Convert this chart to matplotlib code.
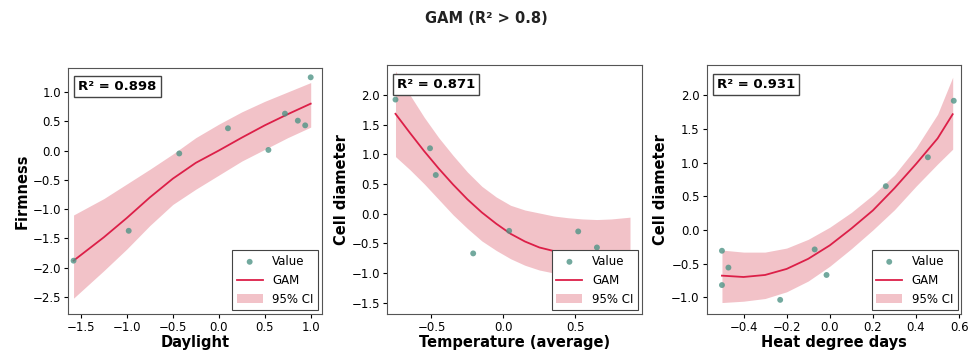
import numpy as np
import matplotlib
matplotlib.use("Agg")
import matplotlib.pyplot as plt

# ---- Data ----
title = "GAM (R² > 0.8)"

# Panel 1: Daylight vs Firmness
p1_x = [-1.58, -0.98, -0.43, 0.10, 0.54, 0.72, 0.86, 0.94, 1.00]
p1_y = [-1.88, -1.37, -0.05, 0.38, 0.01, 0.63, 0.51, 0.43, 1.25]
p1_cx = [-1.58, -1.25, -1.0, -0.75, -0.5, -0.25, 0.0, 0.25, 0.5, 0.75, 1.0]
p1_cy = [-1.88, -1.48, -1.15, -0.80, -0.48, -0.21, 0.0, 0.22, 0.43, 0.62, 0.80]
p1_lo = [-2.52, -2.05, -1.68, -1.28, -0.92, -0.66, -0.42, -0.18, 0.02, 0.22, 0.40]
p1_hi = [-1.10, -0.82, -0.57, -0.32, -0.06, 0.22, 0.45, 0.66, 0.84, 1.00, 1.16]
p1_r2 = "R² = 0.898"

# Panel 2: Temperature (average) vs Cell diameter
p2_x = [-0.75, -0.51, -0.47, -0.21, 0.04, 0.52, 0.65]
p2_y = [1.92, 1.10, 0.65, -0.67, -0.29, -0.30, -0.57]
p2_cx = [-0.75, -0.65, -0.55, -0.45, -0.35, -0.25, -0.15, -0.05, 0.05,
         0.15, 0.25, 0.35, 0.45, 0.55, 0.65, 0.75, 0.88]
p2_cy = [1.68, 1.36, 1.05, 0.76, 0.49, 0.24, 0.02, -0.17, -0.34,
         -0.47, -0.57, -0.63, -0.67, -0.69, -0.69, -0.68, -0.65]
p2_lo = [0.96, 0.74, 0.50, 0.24, -0.02, -0.25, -0.46, -0.62, -0.76,
         -0.87, -0.95, -1.00, -1.04, -1.07, -1.10, -1.13, -1.18]
p2_hi = [2.40, 2.00, 1.62, 1.28, 0.98, 0.70, 0.46, 0.28, 0.14,
         0.06, 0.01, -0.04, -0.07, -0.09, -0.10, -0.09, -0.06]
p2_r2 = "R² = 0.871"

# Panel 3: Heat degree days vs Cell diameter
p3_x = [-0.50, -0.47, -0.50, -0.23, -0.07, -0.015, 0.26, 0.455, 0.575]
p3_y = [-0.31, -0.56, -0.82, -1.04, -0.29, -0.67, 0.65, 1.08, 1.92]
p3_cx = [-0.50, -0.4, -0.3, -0.2, -0.1, 0.0, 0.1, 0.2, 0.3, 0.4, 0.5, 0.57]
p3_cy = [-0.68, -0.70, -0.67, -0.58, -0.43, -0.23, 0.02, 0.29, 0.62, 0.98, 1.36, 1.72]
p3_lo = [-1.08, -1.06, -1.02, -0.92, -0.76, -0.54, -0.28, 0.00, 0.30, 0.65, 0.98, 1.20]
p3_hi = [-0.30, -0.33, -0.33, -0.27, -0.14, 0.04, 0.26, 0.52, 0.82, 1.22, 1.72, 2.27]
p3_r2 = "R² = 0.931"

panels = [
    dict(x=p1_x, y=p1_y, cx=p1_cx, cy=p1_cy, lo=p1_lo, hi=p1_hi, r2=p1_r2,
         xlabel="Daylight", ylabel="Firmness",
         xlim=(-1.64, 1.12), ylim=(-2.79, 1.41),
         xticks=[-1.5, -1.0, -0.5, 0.0, 0.5, 1.0],
         yticks=[-2.5, -2.0, -1.5, -1.0, -0.5, 0.0, 0.5, 1.0],
         rect=[0.070, 0.108, 0.261, 0.699]),
    dict(x=p2_x, y=p2_y, cx=p2_cx, cy=p2_cy, lo=p2_lo, hi=p2_hi, r2=p2_r2,
         xlabel="Temperature (average)", ylabel="Cell diameter",
         xlim=(-0.81, 0.96), ylim=(-1.69, 2.5),
         xticks=[-0.5, 0.0, 0.5],
         yticks=[-1.5, -1.0, -0.5, 0.0, 0.5, 1.0, 1.5, 2.0],
         rect=[0.398, 0.108, 0.262, 0.707]),
    dict(x=p3_x, y=p3_y, cx=p3_cx, cy=p3_cy, lo=p3_lo, hi=p3_hi, r2=p3_r2,
         xlabel="Heat degree days", ylabel="Cell diameter",
         xlim=(-0.571, 0.61), ylim=(-1.25, 2.45),
         xticks=[-0.4, -0.2, 0.0, 0.2, 0.4, 0.6],
         yticks=[-1.0, -0.5, 0.0, 0.5, 1.0, 1.5, 2.0],
         rect=[0.727, 0.108, 0.262, 0.707]),
]

point_color = "#4f9486"
line_color = "#dc1f48"
fill_color = "#e8909c"

fig = plt.figure(figsize=(9.72, 3.52), dpi=100)
fig.text(0.5, 0.947, title, ha="center", va="center", fontsize=10.5,
         fontweight="bold", color="#222222")

for p in panels:
    ax = fig.add_axes(p["rect"])
    ax.fill_between(p["cx"], p["lo"], p["hi"], color=fill_color, alpha=0.55,
                    linewidth=0, label="95% CI", zorder=1)
    ax.plot(p["cx"], p["cy"], color=line_color, lw=1.3, label="GAM", zorder=2)
    ax.scatter(p["x"], p["y"], s=18, color=point_color, alpha=0.8,
               edgecolors="none", label="Value", zorder=3)
    ax.set_xlim(*p["xlim"])
    ax.set_ylim(*p["ylim"])
    ax.set_xticks(p["xticks"])
    ax.set_yticks(p["yticks"])
    ax.set_xlabel(p["xlabel"], fontsize=10.5, fontweight="bold", labelpad=1)
    ax.set_ylabel(p["ylabel"], fontsize=10.5, fontweight="bold", labelpad=2)
    ax.tick_params(labelsize=8.5, length=3, pad=2)
    for s in ax.spines.values():
        s.set_color("#555555")
    ax.text(0.04, 0.95, p["r2"], transform=ax.transAxes, ha="left", va="top",
            fontsize=9.5, fontweight="bold", zorder=5,
            bbox=dict(boxstyle="square,pad=0.3", facecolor="white",
                      edgecolor="#444444", linewidth=1))
    h, l = ax.get_legend_handles_labels()
    order = [l.index("Value"), l.index("GAM"), l.index("95% CI")]
    leg = ax.legend([h[i] for i in order], [l[i] for i in order],
                    loc="lower right", fontsize=8.5, frameon=True,
                    fancybox=False, edgecolor="#444444", framealpha=1,
                    borderaxespad=0.3, handlelength=2.2)
    leg.get_frame().set_linewidth(0.8)
    leg.set_zorder(6)

fig.savefig("out.png", dpi=100)
